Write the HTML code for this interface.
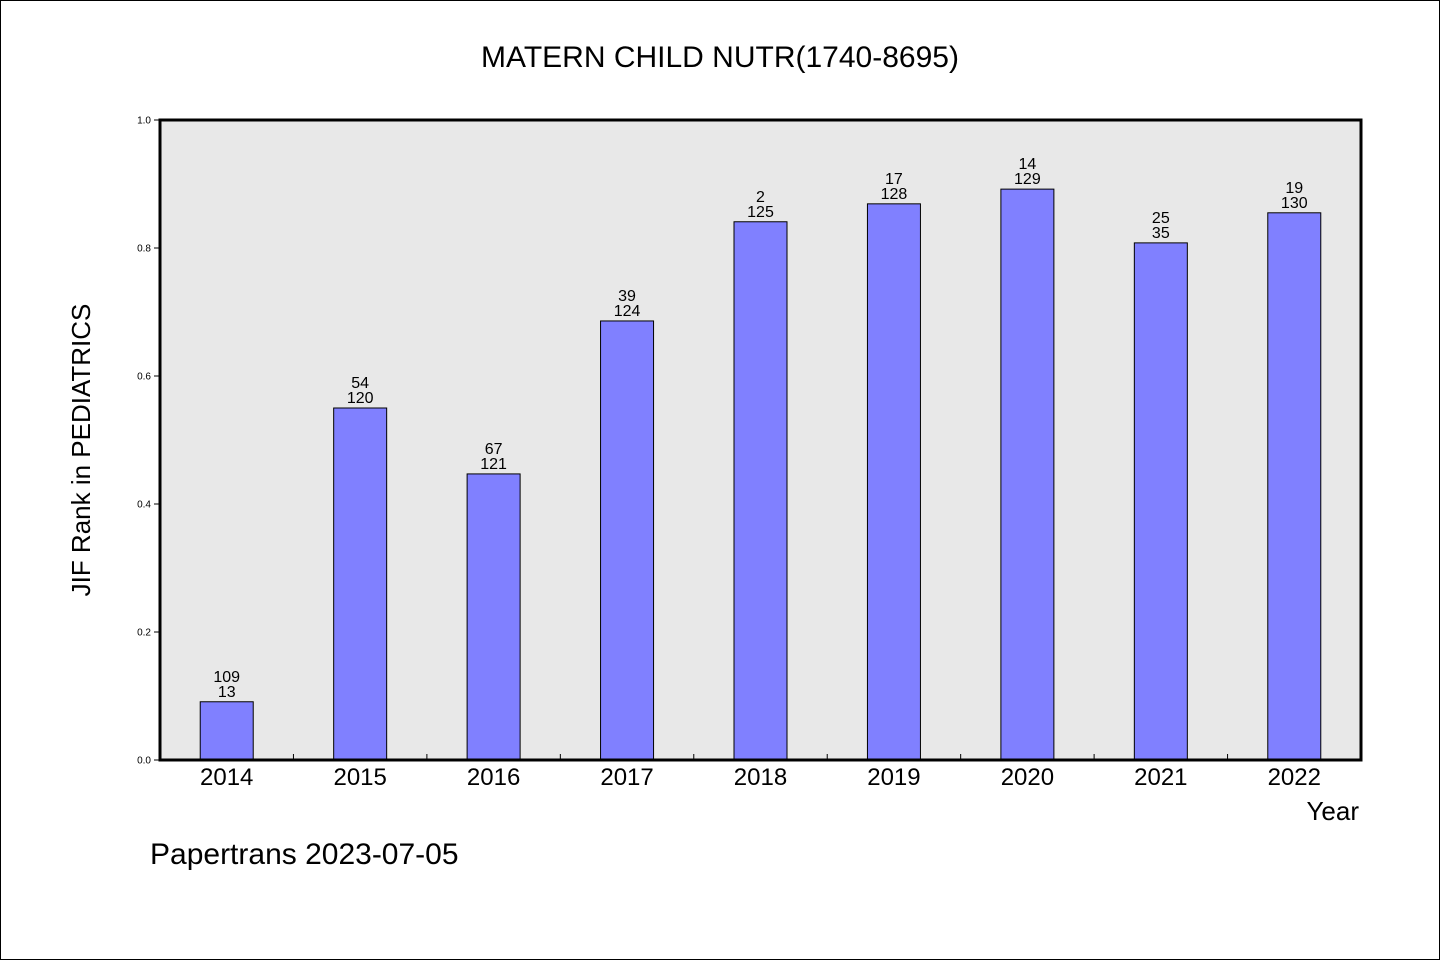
<!DOCTYPE html>
<html><head><meta charset="utf-8"><style>
body{margin:0;background:#fff;}
svg{display:block;font-family:"WenQuanYi Zen Hei","Liberation Sans",sans-serif;}
</style></head><body>
<svg id="chart" width="1440" height="960" xmlns="http://www.w3.org/2000/svg">
<rect x="0.5" y="0.5" width="1439" height="959" fill="#fff" stroke="#000"/>
<text x="720" y="67" font-size="30" text-anchor="middle">MATERN CHILD NUTR(1740-8695)</text>
<rect x="160" y="120" width="1201" height="640" fill="#e8e8e8"/>
<g id="marks"></g>
<rect x="160" y="120" width="1201" height="640" fill="none" stroke="#000" stroke-width="3"/>
<text x="90" y="450" font-size="26" text-anchor="middle" transform="rotate(-90 90 450)">JIF Rank in PEDIATRICS</text>
<text x="1359" y="820" font-size="26" text-anchor="end">Year</text>
<text x="150" y="864" font-size="30">Papertrans 2023-07-05</text>
</svg>
<script>
const years=["2014","2015","2016","2017","2018","2019","2020","2021","2022"];
const values=[0.091,0.55,0.447,0.686,0.841,0.869,0.892,0.808,0.855];
const topLabels=["109","54","67","39","2","17","14","25","19"];
const bottomLabels=["13","120","121","124","125","128","129","35","130"];
const yTicks=["0.0","0.2","0.4","0.6","0.8","1.0"];
const NS="http://www.w3.org/2000/svg";
const x0=160,x1=1361,y0=760,y1=120;
const step=(x1-x0)/years.length;
function xC(i){return x0+step*(i+0.5);}
function yS(v){return y0-(y0-y1)*v;}
const g=document.getElementById('marks');
function mk(t,a,txt){const e=document.createElementNS(NS,t);for(const k in a)e.setAttribute(k,a[k]);if(txt!=null)e.textContent=txt;g.appendChild(e);return e;}
yTicks.forEach(t=>{const y=yS(parseFloat(t));
 const l=mk('line',{x1:154,x2:160,y1:y,y2:y,stroke:'#000'});
 
 
 const tx=mk('text',{x:151,y:y+3.5,'font-size':10,'text-anchor':'end'},t);
 
 
});
for(let i=1;i<years.length;i++){const x=x0+step*i;
 const l=mk('line',{x1:x,x2:x,y1:y0,y2:y0-6,stroke:'#000'});
 
 
}
years.forEach((yr,i)=>{const c=xC(i),bw=53,top=yS(values[i]);
 const r=mk('rect',{x:c-bw/2,y:top,width:bw,height:y0-top,fill:'#8080ff',stroke:'#000','stroke-width':1});
 
 
 const a=mk('text',{x:c,y:top-20,'font-size':16,'text-anchor':'middle'},topLabels[i]);
 
 
 const b=mk('text',{x:c,y:top-5,'font-size':16,'text-anchor':'middle'},bottomLabels[i]);
 
 
 const xl=mk('text',{x:c,y:785,'font-size':24,'text-anchor':'middle'},yr);
 
 
});
</script>
</body></html>
